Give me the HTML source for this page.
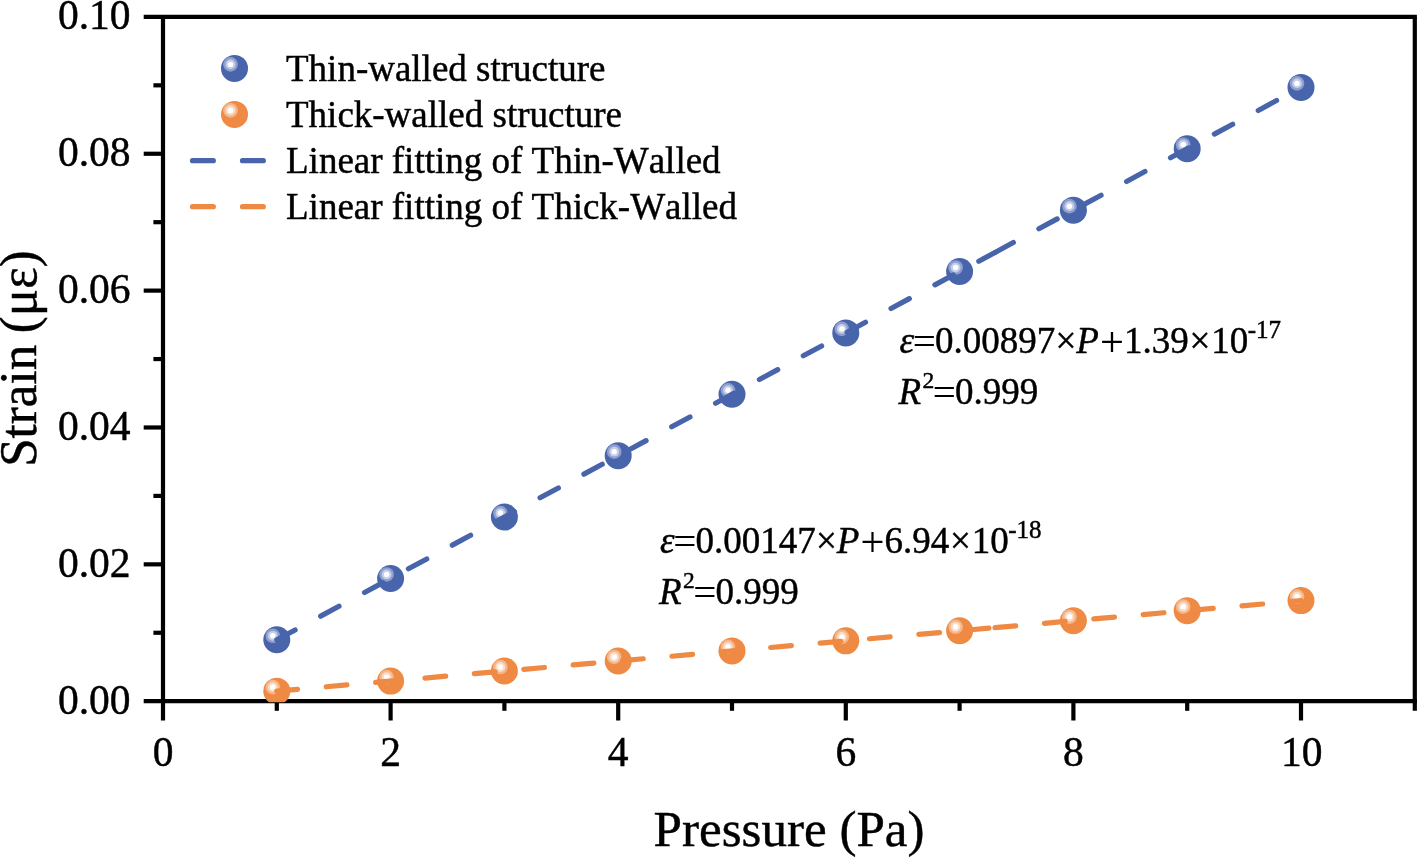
<!DOCTYPE html>
<html><head><meta charset="utf-8"><title>chart</title>
<style>html,body{margin:0;padding:0;background:#fff;}body{width:1417px;height:857px;overflow:hidden;}svg{display:block;will-change:transform;}text{font-family:"Liberation Serif",serif;fill:#000;font-kerning:none;stroke:#000;stroke-width:0.45px;}</style>
</head><body>
<svg width="1417" height="857" viewBox="0 0 1417 857">
<rect width="1417" height="857" fill="#fff"/>
<g id="axes" stroke="#000" stroke-width="4.20" fill="none" stroke-linecap="butt">
<line x1="143.70" y1="16.90" x2="1416.90" y2="16.90"/>
<line x1="143.70" y1="701.20" x2="1416.90" y2="701.20"/>
<line x1="163.00" y1="16.90" x2="163.00" y2="720.50"/>
<line x1="1414.80" y1="16.90" x2="1414.80" y2="710.80"/>
<line x1="153.40" y1="632.77" x2="163.00" y2="632.77"/>
<line x1="143.70" y1="564.34" x2="163.00" y2="564.34"/>
<line x1="153.40" y1="495.91" x2="163.00" y2="495.91"/>
<line x1="143.70" y1="427.48" x2="163.00" y2="427.48"/>
<line x1="153.40" y1="359.05" x2="163.00" y2="359.05"/>
<line x1="143.70" y1="290.62" x2="163.00" y2="290.62"/>
<line x1="153.40" y1="222.19" x2="163.00" y2="222.19"/>
<line x1="143.70" y1="153.76" x2="163.00" y2="153.76"/>
<line x1="153.40" y1="85.33" x2="163.00" y2="85.33"/>
<line x1="276.80" y1="701.20" x2="276.80" y2="710.80"/>
<line x1="390.60" y1="701.20" x2="390.60" y2="720.50"/>
<line x1="504.40" y1="701.20" x2="504.40" y2="710.80"/>
<line x1="618.20" y1="701.20" x2="618.20" y2="720.50"/>
<line x1="732.00" y1="701.20" x2="732.00" y2="710.80"/>
<line x1="845.80" y1="701.20" x2="845.80" y2="720.50"/>
<line x1="959.60" y1="701.20" x2="959.60" y2="710.80"/>
<line x1="1073.40" y1="701.20" x2="1073.40" y2="720.50"/>
<line x1="1187.20" y1="701.20" x2="1187.20" y2="710.80"/>
<line x1="1301.00" y1="701.20" x2="1301.00" y2="720.50"/>
</g>
<defs><clipPath id="plotclip"><rect x="0" y="0" width="1417" height="702.20"/></clipPath></defs>
<g clip-path="url(#plotclip)">
<g id="markers">
<circle cx="276.80" cy="691.14" r="13.50" fill="#ee8a43"/><circle cx="272.80" cy="687.14" r="7.30" fill="#f5b78b"/><circle cx="272.80" cy="687.14" r="4.90" fill="#fbdcc7"/><circle cx="272.80" cy="687.14" r="2.70" fill="#ffffff"/>
<circle cx="390.60" cy="681.08" r="13.50" fill="#ee8a43"/><circle cx="386.60" cy="677.08" r="7.30" fill="#f5b78b"/><circle cx="386.60" cy="677.08" r="4.90" fill="#fbdcc7"/><circle cx="386.60" cy="677.08" r="2.70" fill="#ffffff"/>
<circle cx="504.40" cy="671.02" r="13.50" fill="#ee8a43"/><circle cx="500.40" cy="667.02" r="7.30" fill="#f5b78b"/><circle cx="500.40" cy="667.02" r="4.90" fill="#fbdcc7"/><circle cx="500.40" cy="667.02" r="2.70" fill="#ffffff"/>
<circle cx="618.20" cy="660.96" r="13.50" fill="#ee8a43"/><circle cx="614.20" cy="656.96" r="7.30" fill="#f5b78b"/><circle cx="614.20" cy="656.96" r="4.90" fill="#fbdcc7"/><circle cx="614.20" cy="656.96" r="2.70" fill="#ffffff"/>
<circle cx="732.00" cy="650.90" r="13.50" fill="#ee8a43"/><circle cx="728.00" cy="646.90" r="7.30" fill="#f5b78b"/><circle cx="728.00" cy="646.90" r="4.90" fill="#fbdcc7"/><circle cx="728.00" cy="646.90" r="2.70" fill="#ffffff"/>
<circle cx="845.80" cy="640.84" r="13.50" fill="#ee8a43"/><circle cx="841.80" cy="636.84" r="7.30" fill="#f5b78b"/><circle cx="841.80" cy="636.84" r="4.90" fill="#fbdcc7"/><circle cx="841.80" cy="636.84" r="2.70" fill="#ffffff"/>
<circle cx="959.60" cy="630.79" r="13.50" fill="#ee8a43"/><circle cx="955.60" cy="626.79" r="7.30" fill="#f5b78b"/><circle cx="955.60" cy="626.79" r="4.90" fill="#fbdcc7"/><circle cx="955.60" cy="626.79" r="2.70" fill="#ffffff"/>
<circle cx="1073.40" cy="620.73" r="13.50" fill="#ee8a43"/><circle cx="1069.40" cy="616.73" r="7.30" fill="#f5b78b"/><circle cx="1069.40" cy="616.73" r="4.90" fill="#fbdcc7"/><circle cx="1069.40" cy="616.73" r="2.70" fill="#ffffff"/>
<circle cx="1187.20" cy="610.67" r="13.50" fill="#ee8a43"/><circle cx="1183.20" cy="606.67" r="7.30" fill="#f5b78b"/><circle cx="1183.20" cy="606.67" r="4.90" fill="#fbdcc7"/><circle cx="1183.20" cy="606.67" r="2.70" fill="#ffffff"/>
<circle cx="1301.00" cy="600.61" r="13.50" fill="#ee8a43"/><circle cx="1297.00" cy="596.61" r="7.30" fill="#f5b78b"/><circle cx="1297.00" cy="596.61" r="4.90" fill="#fbdcc7"/><circle cx="1297.00" cy="596.61" r="2.70" fill="#ffffff"/>
<circle cx="276.80" cy="639.82" r="13.50" fill="#4865ab"/><circle cx="272.80" cy="635.82" r="7.30" fill="#8fa0d0"/><circle cx="272.80" cy="635.82" r="4.90" fill="#c6cee8"/><circle cx="272.80" cy="635.82" r="2.70" fill="#ffffff"/>
<circle cx="390.60" cy="578.44" r="13.50" fill="#4865ab"/><circle cx="386.60" cy="574.44" r="7.30" fill="#8fa0d0"/><circle cx="386.60" cy="574.44" r="4.90" fill="#c6cee8"/><circle cx="386.60" cy="574.44" r="2.70" fill="#ffffff"/>
<circle cx="504.40" cy="517.05" r="13.50" fill="#4865ab"/><circle cx="500.40" cy="513.05" r="7.30" fill="#8fa0d0"/><circle cx="500.40" cy="513.05" r="4.90" fill="#c6cee8"/><circle cx="500.40" cy="513.05" r="2.70" fill="#ffffff"/>
<circle cx="618.20" cy="455.67" r="13.50" fill="#4865ab"/><circle cx="614.20" cy="451.67" r="7.30" fill="#8fa0d0"/><circle cx="614.20" cy="451.67" r="4.90" fill="#c6cee8"/><circle cx="614.20" cy="451.67" r="2.70" fill="#ffffff"/>
<circle cx="732.00" cy="394.29" r="13.50" fill="#4865ab"/><circle cx="728.00" cy="390.29" r="7.30" fill="#8fa0d0"/><circle cx="728.00" cy="390.29" r="4.90" fill="#c6cee8"/><circle cx="728.00" cy="390.29" r="2.70" fill="#ffffff"/>
<circle cx="845.80" cy="332.91" r="13.50" fill="#4865ab"/><circle cx="841.80" cy="328.91" r="7.30" fill="#8fa0d0"/><circle cx="841.80" cy="328.91" r="4.90" fill="#c6cee8"/><circle cx="841.80" cy="328.91" r="2.70" fill="#ffffff"/>
<circle cx="959.60" cy="271.53" r="13.50" fill="#4865ab"/><circle cx="955.60" cy="267.53" r="7.30" fill="#8fa0d0"/><circle cx="955.60" cy="267.53" r="4.90" fill="#c6cee8"/><circle cx="955.60" cy="267.53" r="2.70" fill="#ffffff"/>
<circle cx="1073.40" cy="210.15" r="13.50" fill="#4865ab"/><circle cx="1069.40" cy="206.15" r="7.30" fill="#8fa0d0"/><circle cx="1069.40" cy="206.15" r="4.90" fill="#c6cee8"/><circle cx="1069.40" cy="206.15" r="2.70" fill="#ffffff"/>
<circle cx="1187.20" cy="148.76" r="13.50" fill="#4865ab"/><circle cx="1183.20" cy="144.76" r="7.30" fill="#8fa0d0"/><circle cx="1183.20" cy="144.76" r="4.90" fill="#c6cee8"/><circle cx="1183.20" cy="144.76" r="2.70" fill="#ffffff"/>
<circle cx="1301.00" cy="87.38" r="13.50" fill="#4865ab"/><circle cx="1297.00" cy="83.38" r="7.30" fill="#8fa0d0"/><circle cx="1297.00" cy="83.38" r="4.90" fill="#c6cee8"/><circle cx="1297.00" cy="83.38" r="2.70" fill="#ffffff"/>
</g>
<g id="lines" fill="none">
<line x1="276.80" y1="691.14" x2="995.00" y2="627.66" stroke="#ee8a43" stroke-width="5.20" stroke-linecap="round" stroke-dasharray="20.80 28.78"/>
<line x1="995.00" y1="627.66" x2="1301.00" y2="600.61" stroke="#ee8a43" stroke-width="5.20" stroke-linecap="round" stroke-dasharray="20.80 28.78"/>
<line x1="276.80" y1="639.82" x2="995.00" y2="252.43" stroke="#4865ab" stroke-width="5.20" stroke-linecap="round" stroke-dasharray="20.80 29.05"/>
<line x1="995.00" y1="252.43" x2="1301.00" y2="87.38" stroke="#4865ab" stroke-width="5.20" stroke-linecap="round" stroke-dasharray="20.80 29.05"/>
</g>
</g>
<g id="ticklabels" font-size="41.5">
<text x="130.6" y="713.70" text-anchor="end">0.00</text>
<text x="130.6" y="576.84" text-anchor="end">0.02</text>
<text x="130.6" y="439.98" text-anchor="end">0.04</text>
<text x="130.6" y="303.12" text-anchor="end">0.06</text>
<text x="130.6" y="166.26" text-anchor="end">0.08</text>
<text x="130.6" y="28.80" text-anchor="end">0.10</text>
<text x="163.00" y="765.7" text-anchor="middle">0</text>
<text x="390.60" y="765.7" text-anchor="middle">2</text>
<text x="618.20" y="765.7" text-anchor="middle">4</text>
<text x="845.80" y="765.7" text-anchor="middle">6</text>
<text x="1073.40" y="765.7" text-anchor="middle">8</text>
<text x="1301.70" y="765.7" text-anchor="middle">10</text>
</g>
<text x="789.05" y="845.9" font-size="51.1" text-anchor="middle">Pressure (Pa)</text>
<text transform="translate(36.1,358.6) rotate(-90) scale(0.983,1)" font-size="52" text-anchor="middle">Strain <tspan dx="-1.3">(με)</tspan></text>
<g id="legend" font-size="37">
<circle cx="234.50" cy="68.40" r="13.50" fill="#4865ab"/><circle cx="230.50" cy="64.40" r="7.30" fill="#8fa0d0"/><circle cx="230.50" cy="64.40" r="4.90" fill="#c6cee8"/><circle cx="230.50" cy="64.40" r="2.70" fill="#ffffff"/>
<circle cx="234.50" cy="114.40" r="13.50" fill="#ee8a43"/><circle cx="230.50" cy="110.40" r="7.30" fill="#f5b78b"/><circle cx="230.50" cy="110.40" r="4.90" fill="#fbdcc7"/><circle cx="230.50" cy="110.40" r="2.70" fill="#ffffff"/>
<line x1="192.50" y1="160.70" x2="213.30" y2="160.70" stroke="#4865ab" stroke-width="5.20" stroke-linecap="round"/>
<line x1="242.50" y1="160.70" x2="263.30" y2="160.70" stroke="#4865ab" stroke-width="5.20" stroke-linecap="round"/>
<line x1="192.50" y1="206.70" x2="213.30" y2="206.70" stroke="#ee8a43" stroke-width="5.20" stroke-linecap="round"/>
<line x1="242.50" y1="206.70" x2="263.30" y2="206.70" stroke="#ee8a43" stroke-width="5.20" stroke-linecap="round"/>
<text x="286" y="80.65">Thin-walled structure</text>
<text x="286" y="126.90">Thick-walled structure</text>
<text x="286" y="172.70">Linear fitting of Thin-Walled</text>
<text x="286" y="218.60">Linear fitting of Thick-Walled</text>
</g>
<g><text x="899.50" y="353.40" font-size="37" font-style="italic">ε</text><text x="912.80" y="354.60" font-size="41" style="stroke-width:0.1px">=</text><text x="934.95" y="353.40" font-size="37" >0.00897</text><text x="1055.50" y="353.40" font-size="37" >×</text><text x="1076.16" y="353.40" font-size="37" font-style="italic">P</text><text x="1100.10" y="356.20" font-size="42.5" style="stroke-width:0.1px">+</text><text x="1124.10" y="353.40" font-size="37" >1.39</text><text x="1189.40" y="353.40" font-size="37" >×</text><text x="1211.35" y="353.40" font-size="37" >10</text><text x="1247.70" y="338.10" font-size="25" >-17</text><text x="898.60" y="404.30" font-size="37" font-style="italic">R</text><text x="922.60" y="387.70" font-size="23.5" >2</text><text x="932.70" y="405.50" font-size="41" style="stroke-width:0.1px">=</text><text x="955.00" y="404.30" font-size="37" >0.999</text></g>
<g><text x="660.00" y="553.35" font-size="37" font-style="italic">ε</text><text x="673.30" y="554.55" font-size="41" style="stroke-width:0.1px">=</text><text x="695.45" y="553.35" font-size="37" >0.00147</text><text x="816.00" y="553.35" font-size="37" >×</text><text x="836.66" y="553.35" font-size="37" font-style="italic">P</text><text x="860.60" y="556.15" font-size="42.5" style="stroke-width:0.1px">+</text><text x="884.60" y="553.35" font-size="37" >6.94</text><text x="949.90" y="553.35" font-size="37" >×</text><text x="971.85" y="553.35" font-size="37" >10</text><text x="1008.20" y="538.05" font-size="25" >-18</text><text x="659.10" y="604.30" font-size="37" font-style="italic">R</text><text x="683.10" y="587.70" font-size="23.5" >2</text><text x="693.20" y="605.50" font-size="41" style="stroke-width:0.1px">=</text><text x="715.50" y="604.30" font-size="37" >0.999</text></g>
</svg></body></html>
